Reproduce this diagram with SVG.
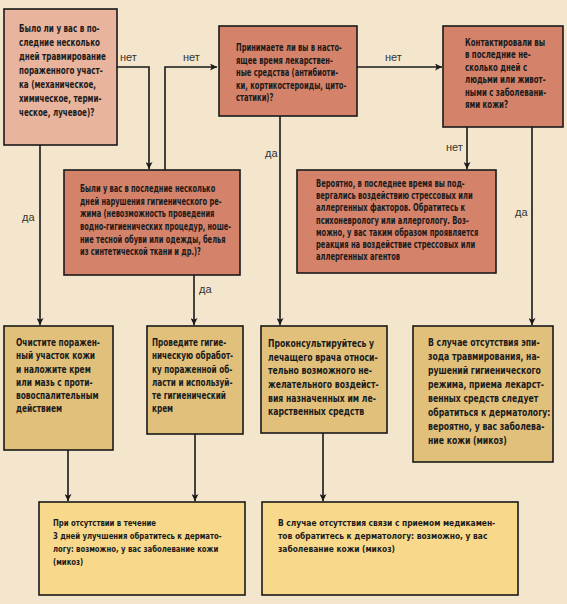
<svg xmlns="http://www.w3.org/2000/svg" width="567" height="604" viewBox="0 0 567 604">
<defs>
<marker id="ah" viewBox="0 0 10 10" refX="10" refY="5" markerWidth="7" markerHeight="7" markerUnits="userSpaceOnUse" orient="auto">
<path d="M0,0 L10,5 L0,10 L2.5,5 Z" fill="#1a1a1a"/>
</marker>
<style>
.bx{stroke:#1a1a1a;stroke-width:1.6}
.q1{fill:#e8b49d}
.q{fill:#d4826a}
.a{fill:#e1c07c}
.f{fill:#f8d98c}
.t{font-family:"Liberation Sans Narrow","DejaVu Sans Condensed","Liberation Sans",sans-serif;font-weight:bold;font-size:10px;fill:#1a1a1a}
.lb{font-family:"Liberation Sans",Arial,sans-serif;font-size:11px;fill:#333}
.c{fill:none;stroke:#1a1a1a;stroke-width:1.6}
</style>
</defs>
<rect width="567" height="604" fill="#f3e6cd"/>
<g id="connectors">
<path class="c" d="M117,67 H149 V169" marker-end="url(#ah)"/>
<path class="c" d="M165,170 V67 H217" marker-end="url(#ah)"/>
<path class="c" d="M357,67 H442" marker-end="url(#ah)"/>
<path class="c" d="M467,127 V169" marker-end="url(#ah)"/>
<path class="c" d="M532,127 V325" marker-end="url(#ah)"/>
<path class="c" d="M40,145 V325" marker-end="url(#ah)"/>
<path class="c" d="M194,275 V325" marker-end="url(#ah)"/>
<path class="c" d="M280,116 V325" marker-end="url(#ah)"/>
<path class="c" d="M68,450 V501" marker-end="url(#ah)"/>
<path class="c" d="M195,434 V501" marker-end="url(#ah)"/>
<path class="c" d="M323,433 V501" marker-end="url(#ah)"/>
<text class="lb" x="120" y="61">нет</text>
<text class="lb" x="183" y="61">нет</text>
<text class="lb" x="385" y="61">нет</text>
<text class="lb" x="446" y="151">нет</text>
<text class="lb" x="265" y="157">да</text>
<text class="lb" x="22" y="221">да</text>
<text class="lb" x="199" y="293">да</text>
<text class="lb" x="515" y="216">да</text>
</g>
<g id="n1">
<rect class="bx q1" x="4" y="9" width="113" height="136"/>
<text class="t" transform="translate(19,32) scale(0.76,1)" style="font-size:10.5px">
<tspan x="0" y="0">Было ли у вас в по-</tspan>
<tspan x="0" y="14">следние несколько</tspan>
<tspan x="0" y="28">дней травмирование</tspan>
<tspan x="0" y="42">пораженного участ-</tspan>
<tspan x="0" y="56">ка (механическое,</tspan>
<tspan x="0" y="70">химическое, терми-</tspan>
<tspan x="0" y="84">ческое, лучевое)?</tspan>
</text>
</g>
<g id="n2">
<rect class="bx q" x="219" y="26" width="138" height="90"/>
<text class="t" transform="translate(236,51) scale(0.75,1)">
<tspan x="0" y="0">Принимаете ли вы в насто-</tspan>
<tspan x="0" y="12.6">ящее время лекарствен-</tspan>
<tspan x="0" y="25.2">ные средства (антибиоти-</tspan>
<tspan x="0" y="37.8">ки, кортикостероиды, цито-</tspan>
<tspan x="0" y="50.4">статики)?</tspan>
</text>
</g>
<g id="n3">
<rect class="bx q" x="64" y="170" width="176" height="105"/>
<text class="t" transform="translate(80,192) scale(0.74,1)">
<tspan x="0" y="0">Были у вас в последние несколько</tspan>
<tspan x="0" y="12.7">дней нарушения гигиенического ре-</tspan>
<tspan x="0" y="25.4">жима (невозможность проведения</tspan>
<tspan x="0" y="38.1">водно-гигиенических процедур, ноше-</tspan>
<tspan x="0" y="50.8">ние тесной обуви или одежды, белья</tspan>
<tspan x="0" y="63.5">из синтетической ткани и др.)?</tspan>
</text>
</g>
<g id="n4">
<rect class="bx q" x="443" y="26" width="120" height="101"/>
<text class="t" transform="translate(465,46) scale(0.78,1)">
<tspan x="0" y="0">Контактировали вы</tspan>
<tspan x="0" y="12.4">в последние не-</tspan>
<tspan x="0" y="24.8">сколько дней с</tspan>
<tspan x="0" y="37.2">людьми или живот-</tspan>
<tspan x="0" y="49.6">ными с заболевани-</tspan>
<tspan x="0" y="62">ями кожи?</tspan>
</text>
</g>
<g id="n5">
<rect class="bx q" x="297" y="170" width="199" height="103"/>
<text class="t" transform="translate(316,187) scale(0.75,1)">
<tspan x="0" y="0">Вероятно, в последнее время вы под-</tspan>
<tspan x="0" y="12.2">вергались воздействию стрессовых или</tspan>
<tspan x="0" y="24.4">аллергенных факторов. Обратитесь к</tspan>
<tspan x="0" y="36.6">психоневрологу или аллергологу. Воз-</tspan>
<tspan x="0" y="48.8">можно, у вас таким образом проявляется</tspan>
<tspan x="0" y="61">реакция на воздействие стрессовых или</tspan>
<tspan x="0" y="73.2">аллергенных агентов</tspan>
</text>
</g>
<g id="n6">
<rect class="bx a" x="4" y="326" width="109" height="124"/>
<text class="t" transform="translate(16,346) scale(0.83,1)">
<tspan x="0" y="0">Очистите поражен-</tspan>
<tspan x="0" y="13.3">ный участок кожи</tspan>
<tspan x="0" y="26.6">и наложите крем</tspan>
<tspan x="0" y="39.9">или мазь с проти-</tspan>
<tspan x="0" y="53.2">вовоспалительным</tspan>
<tspan x="0" y="66.5">действием</tspan>
</text>
</g>
<g id="n7">
<rect class="bx a" x="147" y="326" width="96" height="108"/>
<text class="t" transform="translate(152,346) scale(0.81,1)">
<tspan x="0" y="0">Проведите гигие-</tspan>
<tspan x="0" y="13.3">ническую обработ-</tspan>
<tspan x="0" y="26.6">ку пораженной об-</tspan>
<tspan x="0" y="39.9">ласти и используй-</tspan>
<tspan x="0" y="53.2">те гигиенический</tspan>
<tspan x="0" y="66.5">крем</tspan>
</text>
</g>
<g id="n8">
<rect class="bx a" x="261" y="326" width="126" height="107"/>
<text class="t" transform="translate(268,347) scale(0.86,1)">
<tspan x="0" y="0">Проконсультируйтесь у</tspan>
<tspan x="0" y="13.7">лечащего врача относи-</tspan>
<tspan x="0" y="27.4">тельно возможного не-</tspan>
<tspan x="0" y="41.1">желательного воздейст-</tspan>
<tspan x="0" y="54.8">вия назначенных им ле-</tspan>
<tspan x="0" y="68.5">карственных средств</tspan>
</text>
</g>
<g id="n9">
<rect class="bx a" x="413" y="326" width="140" height="136"/>
<text class="t" transform="translate(428,346) scale(0.86,1)">
<tspan x="0" y="0">В случае отсутствия эпи-</tspan>
<tspan x="0" y="14">зода травмирования, на-</tspan>
<tspan x="0" y="28">рушений гигиенического</tspan>
<tspan x="0" y="42">режима, приема лекарст-</tspan>
<tspan x="0" y="56">венных средств следует</tspan>
<tspan x="0" y="70">обратиться к дерматологу:</tspan>
<tspan x="0" y="84">вероятно, у вас заболева-</tspan>
<tspan x="0" y="98">ние кожи (микоз)</tspan>
</text>
</g>
<g id="n10">
<rect class="bx f" x="39" y="502" width="206" height="93"/>
<text class="t" transform="translate(53,526) scale(0.81,1)" style="font-size:9.5px">
<tspan x="0" y="0">При отсутствии в течение</tspan>
<tspan x="0" y="13">3 дней улучшения обратитесь к дермато-</tspan>
<tspan x="0" y="26">логу: возможно, у вас заболевание кожи</tspan>
<tspan x="0" y="39">(микоз)</tspan>
</text>
</g>
<g id="n11">
<rect class="bx f" x="262" y="502" width="256" height="93"/>
<text class="t" transform="translate(278,526) scale(0.88,1)" style="font-size:9.5px">
<tspan x="0" y="0">В случае отсутствия связи с приемом медикамен-</tspan>
<tspan x="0" y="13">тов обратитесь к дерматологу: возможно, у вас</tspan>
<tspan x="0" y="26">заболевание кожи (микоз)</tspan>
</text>
</g>
</svg>
